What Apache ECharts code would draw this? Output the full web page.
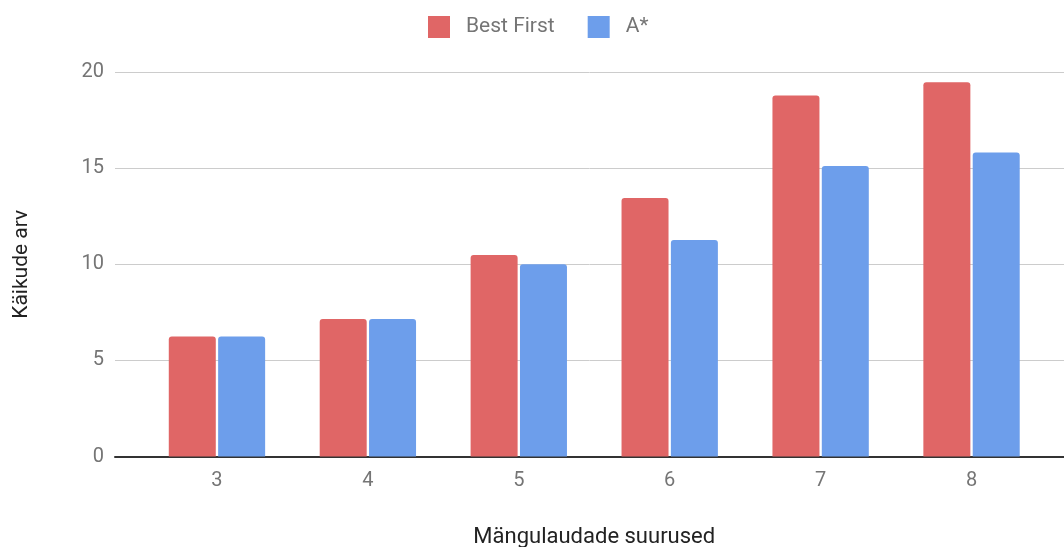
<!DOCTYPE html>
<html>
<head>
<meta charset="utf-8">
<script src="https://cdn.jsdelivr.net/npm/echarts@6/dist/echarts.min.js"></script>
<style>
  html, body { margin: 0; padding: 0; background: #fff; }
  #chart { width: 1064px; height: 547px; }
</style>
</head>
<body>
<div id="chart"></div>
<script>
// Board sizes and average move counts per search algorithm
const categories = ['3', '4', '5', '6', '7', '8'];
const bestFirst = [6.24, 7.15, 10.48, 13.45, 18.78, 19.47];
const aStar = [6.24, 7.15, 10.0, 11.26, 15.11, 15.81];
const yTicks = { min: 0, max: 20, interval: 5 };

const FONT = 'Roboto, "Noto Sans", sans-serif';
const chart = echarts.init(document.getElementById('chart'));

chart.setOption({
  animation: false,
  textStyle: { fontFamily: FONT },
  legend: {
    top: 11,
    left: 423,
    itemWidth: 22,
    itemHeight: 22,
    itemGap: 33,
    icon: 'rect',
    itemStyle: { borderRadius: 2 },
    textStyle: { color: '#757575', fontSize: 21, fontFamily: FONT, padding: [0, 0, 0, 11] },
    data: ['Best First', 'A*']
  },
  grid: [
    // full-width grid carrying the value gridlines and the baseline
    { left: 115, right: 0, top: 72, bottom: 90.5, outerBoundsMode: 'none' },
    // inset grid holding the bar categories
    { left: 141.5, right: 17, top: 72, bottom: 90.5, outerBoundsMode: 'none' }
  ],
  xAxis: [
    {
      gridIndex: 0, type: 'value', min: 0, max: 1,
      axisLine: { show: true, onZero: false, lineStyle: { color: '#333', width: 2 } },
      axisTick: { show: false }, axisLabel: { show: false }, splitLine: { show: false }
    },
    {
      gridIndex: 1, type: 'category', data: categories,
      axisLine: { show: false }, axisTick: { show: false },
      axisLabel: { color: '#757575', fontSize: 20, margin: 14, fontFamily: FONT },
      name: 'Mängulaudade suurused',
      nameLocation: 'middle',
      nameGap: 70,
      nameTextStyle: { color: '#222', fontSize: 22, fontFamily: FONT }
    }
  ],
  yAxis: [
    {
      gridIndex: 0, type: 'value',
      min: yTicks.min, max: yTicks.max, interval: yTicks.interval,
      axisLine: { show: false }, axisTick: { show: false },
      axisLabel: { color: '#757575', fontSize: 20, margin: 11, fontFamily: FONT },
      splitLine: { lineStyle: { color: '#cccccc', width: 1 } },
      name: 'Käikude arv',
      nameLocation: 'middle',
      nameRotate: 90,
      nameGap: 83,
      nameTextStyle: { color: '#222', fontSize: 21, fontFamily: FONT }
    },
    {
      gridIndex: 1, type: 'value',
      min: yTicks.min, max: yTicks.max, interval: yTicks.interval,
      show: false, splitLine: { show: false }
    }
  ],
  series: [
    {
      name: 'Best First', type: 'bar', xAxisIndex: 1, yAxisIndex: 1,
      data: bestFirst, barWidth: 47, barGap: '5%',
      itemStyle: { color: '#e06666', borderRadius: [3, 3, 0, 0] }
    },
    {
      name: 'A*', type: 'bar', xAxisIndex: 1, yAxisIndex: 1,
      data: aStar, barWidth: 47, barGap: '5%',
      itemStyle: { color: '#6d9eeb', borderRadius: [3, 3, 0, 0] }
    }
  ]
});
</script>
</body>
</html>
